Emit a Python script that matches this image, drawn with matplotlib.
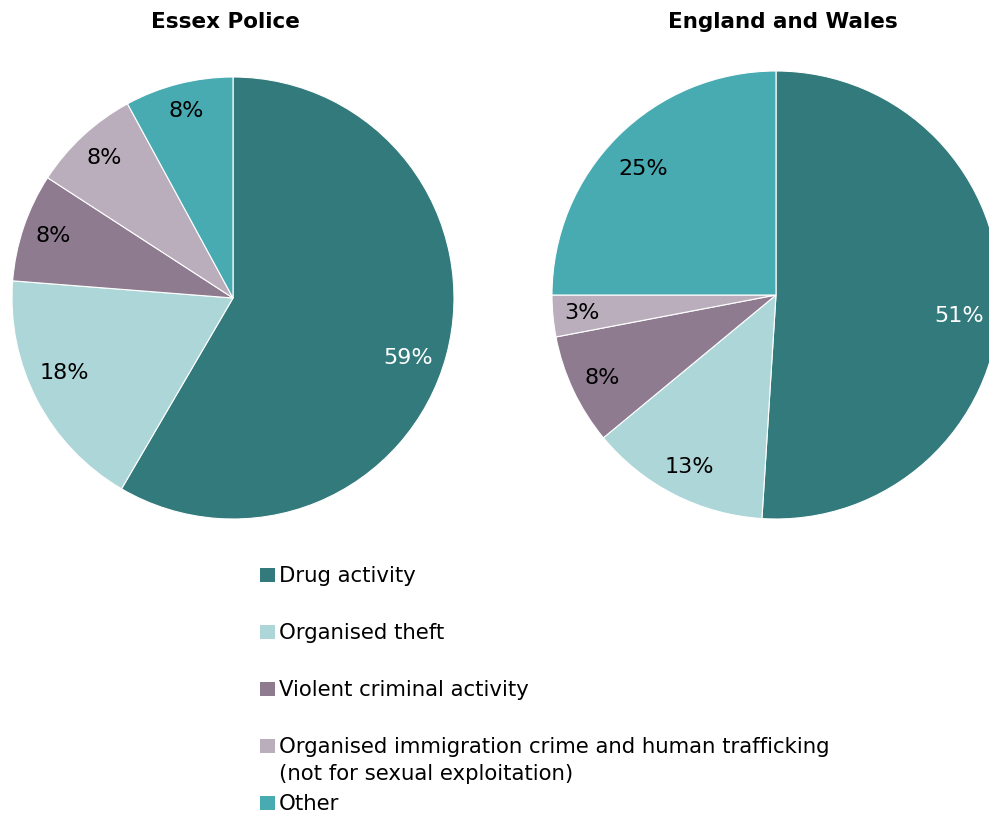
import matplotlib
matplotlib.use("Agg")
import numpy as np
import matplotlib.pyplot as plt
from matplotlib.patches import Rectangle

plt.rcParams['font.family'] = ['DejaVu Sans']

categories = ["Drug activity", "Organised theft", "Violent criminal activity",
              "Organised immigration crime and human trafficking\n(not for sexual exploitation)",
              "Other"]
essex_values = [59, 18, 8, 8, 8]
ew_values = [51, 13, 8, 3, 25]
titles = ["Essex Police", "England and Wales"]
colors = ["#327a7b", "#add6d8", "#8e7b90", "#baaebd", "#47abb1"]
label_colors = ["white", "black", "black", "black", "black"]

W, H = 989, 814
fig = plt.figure(figsize=(W / 100, H / 100), dpi=100)

def add_pie(cx, cy, r, values, title, title_x, label_r, label_dy):
    ax = fig.add_axes([(cx - r) / W, 1 - (cy + r) / H, 2 * r / W, 2 * r / H])
    wedges, _ = ax.pie(values, colors=colors, startangle=90, counterclock=False,
                       radius=1,
                       wedgeprops=dict(edgecolor="white", linewidth=0.8))
    for w, v, c, lr, dy in zip(wedges, values, label_colors, label_r, label_dy):
        ang = np.deg2rad((w.theta1 + w.theta2) / 2)
        ax.text(lr * np.cos(ang), lr * np.sin(ang) - dy / r, f"{v}%",
                color=c, fontsize=16, ha="center", va="center")
    ax.set_xlim(-1, 1)
    ax.set_ylim(-1, 1)
    ax.set_aspect("equal")
    ax.axis("off")
    fig.text(title_x / W, 1 - 22 / H, title, ha="center", va="center",
             fontsize=15.5, fontweight="bold")
    return ax

add_pie(233, 298, 221, essex_values, titles[0], 225,
        [0.82, 0.86, 0.86, 0.86, 0.86], [13, -13, -1, 0, -3])
add_pie(776, 295, 224, ew_values, titles[1], 783,
        [0.82, 0.85, 0.86, 0.87, 0.84], [15, 2, 1, 0, 7])

# legend
legend_y = [575, 632, 689, 746, 803]
for cat, col, y in zip(categories, colors, legend_y):
    fig.patches.append(Rectangle((260 / W, 1 - (y + 7) / H), 15 / W, 14 / H,
                                 transform=fig.transFigure, facecolor=col,
                                 edgecolor="none"))
    fig.text(279 / W, 1 - (y - 9) / H, cat, ha="left", va="top",
             fontsize=15.3, linespacing=1.45)

fig.savefig("out.png", dpi=100)
